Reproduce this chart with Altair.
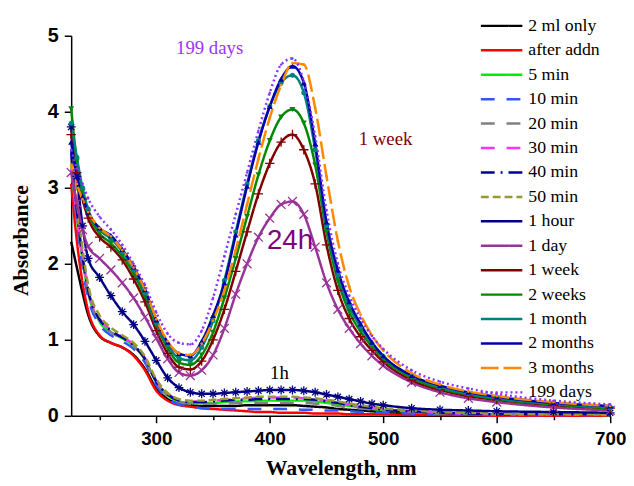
import altair as alt
import pandas as pd

wavelength = [225, 230, 235, 240, 250, 260, 270, 280, 290, 300, 310, 320, 330, 340, 350, 360,
              370, 380, 390, 400, 410, 420, 430, 440, 450, 460, 470, 480, 490, 500, 525, 550,
              575, 600, 650, 700]

series_names = ["2 ml only", "after addn", "5 min", "10 min", "20 min", "30 min", "40 min",
                "50 min", "1 hour", "1 day", "1 week", "2 weeks", "1 month", "2 months",
                "3 months", "199 days"]

ml2_only = [2.29, 1.95, 1.62, 1.33, 1.05, 0.96, 0.90, 0.80, 0.62, 0.36, 0.22, 0.16, 0.14, 0.13, 0.13, 0.13,
            0.13, 0.14, 0.14, 0.14, 0.14, 0.14, 0.13, 0.12, 0.11, 0.09, 0.08, 0.07, 0.06, 0.05, 0.03, 0.02,
            0.02, 0.01, 0.01, 0.01]
after_addn = [3.05, 2.30, 1.75, 1.38, 1.06, 0.96, 0.90, 0.79, 0.60, 0.33, 0.20, 0.14, 0.12, 0.10, 0.09, 0.08,
              0.07, 0.06, 0.05, 0.05, 0.04, 0.04, 0.04, 0.03, 0.03, 0.03, 0.02, 0.02, 0.02, 0.02, 0.01, 0.01,
              0.01, 0.0, 0.0, 0.0]
min5 = [3.30, 2.60, 2.05, 1.62, 1.24, 1.10, 1.02, 0.92, 0.74, 0.44, 0.27, 0.19, 0.17, 0.17, 0.17, 0.18,
        0.19, 0.19, 0.20, 0.20, 0.20, 0.20, 0.20, 0.19, 0.17, 0.15, 0.13, 0.11, 0.09, 0.08, 0.05, 0.04,
        0.03, 0.02, 0.02, 0.01]
min10 = [3.45, 2.55, 1.95, 1.55, 1.20, 1.06, 0.98, 0.88, 0.70, 0.40, 0.23, 0.15, 0.12, 0.10, 0.09, 0.09,
         0.09, 0.09, 0.09, 0.09, 0.09, 0.09, 0.08, 0.08, 0.07, 0.07, 0.06, 0.05, 0.05, 0.04, 0.03, 0.02,
         0.02, 0.01, 0.01, 0.01]
min20 = [3.40, 2.62, 2.05, 1.62, 1.25, 1.10, 1.02, 0.92, 0.74, 0.44, 0.26, 0.18, 0.16, 0.16, 0.16, 0.16,
         0.17, 0.17, 0.17, 0.17, 0.17, 0.17, 0.17, 0.16, 0.15, 0.13, 0.11, 0.10, 0.08, 0.07, 0.05, 0.03,
         0.03, 0.02, 0.02, 0.01]
min30 = [3.25, 2.65, 2.10, 1.66, 1.28, 1.13, 1.04, 0.94, 0.76, 0.46, 0.29, 0.21, 0.19, 0.19, 0.20, 0.21,
         0.22, 0.23, 0.24, 0.24, 0.24, 0.24, 0.23, 0.22, 0.20, 0.18, 0.15, 0.13, 0.11, 0.09, 0.06, 0.04,
         0.03, 0.03, 0.02, 0.02]
min40 = [3.50, 2.70, 2.10, 1.65, 1.27, 1.12, 1.03, 0.93, 0.75, 0.45, 0.28, 0.20, 0.18, 0.18, 0.19, 0.20,
         0.21, 0.21, 0.22, 0.22, 0.22, 0.22, 0.22, 0.21, 0.19, 0.17, 0.14, 0.12, 0.10, 0.08, 0.06, 0.04,
         0.03, 0.02, 0.02, 0.02]
min50 = [3.85, 2.85, 2.20, 1.72, 1.32, 1.16, 1.06, 0.96, 0.78, 0.48, 0.30, 0.22, 0.20, 0.20, 0.21, 0.22,
         0.23, 0.24, 0.25, 0.25, 0.25, 0.25, 0.24, 0.23, 0.21, 0.19, 0.16, 0.14, 0.12, 0.10, 0.07, 0.05,
         0.04, 0.03, 0.02, 0.02]
hour1 = [3.80, 3.15, 2.50, 2.07, 1.82, 1.58, 1.37, 1.20, 0.98, 0.73, 0.50, 0.37, 0.31, 0.29, 0.29, 0.30,
         0.31, 0.32, 0.33, 0.34, 0.34, 0.34, 0.33, 0.31, 0.28, 0.25, 0.22, 0.19, 0.16, 0.14, 0.10, 0.08,
         0.07, 0.06, 0.05, 0.04]
day1 = [3.20, 2.80, 2.45, 2.23, 2.07, 1.92, 1.75, 1.55, 1.30, 1.02, 0.75, 0.57, 0.53, 0.60, 0.80, 1.15,
        1.60, 2.00, 2.35, 2.60, 2.78, 2.82, 2.65, 2.22, 1.75, 1.40, 1.15, 0.95, 0.79, 0.66, 0.44, 0.31,
        0.23, 0.18, 0.11, 0.07]
week1 = [3.70, 3.20, 2.85, 2.60, 2.35, 2.22, 2.05, 1.80, 1.50, 1.12, 0.82, 0.64, 0.61, 0.72, 1.00, 1.40,
         1.90, 2.42, 2.92, 3.32, 3.60, 3.70, 3.50, 3.05, 2.25, 1.65, 1.28, 1.04, 0.86, 0.71, 0.47, 0.34,
         0.26, 0.21, 0.14, 0.10]
weeks2 = [4.04, 3.35, 2.95, 2.68, 2.40, 2.27, 2.10, 1.87, 1.57, 1.19, 0.89, 0.70, 0.67, 0.80, 1.10, 1.55,
          2.07, 2.62, 3.17, 3.62, 3.93, 4.03, 3.85, 3.30, 2.42, 1.78, 1.37, 1.11, 0.91, 0.75, 0.50, 0.36,
          0.28, 0.22, 0.15, 0.10]
month1 = [3.85, 3.40, 3.00, 2.72, 2.45, 2.33, 2.16, 1.92, 1.62, 1.22, 0.93, 0.76, 0.73, 0.90, 1.25, 1.78,
          2.42, 3.05, 3.62, 4.07, 4.38, 4.48, 4.25, 3.50, 2.50, 1.85, 1.44, 1.17, 0.95, 0.78, 0.52, 0.38,
          0.29, 0.23, 0.16, 0.11]
months2 = [3.60, 3.15, 2.88, 2.68, 2.47, 2.37, 2.19, 1.96, 1.66, 1.26, 0.97, 0.82, 0.79, 0.98, 1.32, 1.75,
           2.38, 3.02, 3.60, 4.07, 4.43, 4.60, 4.38, 3.58, 2.55, 1.92, 1.50, 1.21, 0.97, 0.79, 0.53, 0.40,
           0.31, 0.25, 0.17, 0.13]
months3 = [3.30, 3.05, 2.85, 2.68, 2.47, 2.36, 2.18, 1.95, 1.66, 1.27, 0.98, 0.82, 0.80, 0.95, 1.25, 1.65,
           2.18, 2.78, 3.38, 3.92, 4.35, 4.64, 4.62, 4.05, 3.15, 2.30, 1.70, 1.33, 1.06, 0.86, 0.56, 0.41,
           0.32, 0.26, 0.18, 0.13]
days199 = [3.50, 3.25, 3.05, 2.86, 2.62, 2.45, 2.25, 2.00, 1.72, 1.36, 1.08, 0.96, 0.94, 1.12, 1.55, 2.10,
           2.65, 3.20, 3.75, 4.25, 4.62, 4.70, 4.40, 3.68, 2.70, 2.00, 1.58, 1.28, 1.05, 0.88, 0.60, 0.45,
           0.36, 0.29, 0.20, 0.15]

all_values = [ml2_only, after_addn, min5, min10, min20, min30, min40, min50, hour1, day1, week1,
              weeks2, month1, months2, months3, days199]

colors = ["#000000", "#ff0000", "#00ee00", "#3355ff", "#808080", "#ff33ff", "#000099", "#999933",
          "#000080", "#993399", "#800000", "#008800", "#008080", "#0000aa", "#ff8800", "#8833ff"]
dashes = [[1, 0], [1, 0], [1, 0], [14, 12], [14, 12], [14, 12], [14, 6, 2, 6], [8, 4],
          [1, 0], [1, 0], [1, 0], [1, 0], [1, 0], [1, 0], [18, 5], [2, 3]]
widths = [2.5, 2.5, 1.2, 1.3, 1.3, 1.3, 1.3, 1.3, 3.0, 3.0, 2.0, 2.0, 2.0, 2.0, 1.5, 1.4]

ann_text = ["199 days", "1 week", "1h"]
ann_wl = [347, 502, 408.5]
ann_abs = [4.84, 3.64, 0.56]
ann_color = ["#9933ff", "#800000", "#000000"]

big_text = ["24h"]
big_wl = [417.8]
big_abs = [2.30]

rows = []
for i, name in enumerate(series_names):
    for w, v in zip(wavelength, all_values[i]):
        rows.append({"series": name, "wl": w, "abs": v, "idx": i})
df = pd.DataFrame(rows)

xenc = alt.X("wl:Q", scale=alt.Scale(domain=[225, 700], nice=False, zero=False),
             axis=alt.Axis(values=[250, 300, 350, 400, 450, 500, 550, 600, 650, 700],
                           labelExpr="datum.value % 100 === 0 ? format(datum.value, 'd') : ''",
                           tickSize={"condition": {"test": "datum.value % 100 !== 0", "value": 4}, "value": 7},
                           grid=False, labelFlush=False, labelOverlap=False,
                           labelFont="Liberation Sans", labelFontWeight="bold", labelFontSize=19,
                           labelPadding=7, labelColor="black",
                           title="Wavelength, nm", titleFont="Liberation Serif", titleFontSize=22,
                           titleFontWeight="bold", titleColor="black", titleY=59,
                           titleBaseline="alphabetic",
                           domainColor="black", domainWidth=1.5, tickColor="black", tickWidth=1.5))
yenc = alt.Y("abs:Q", scale=alt.Scale(domain=[0, 5], nice=False),
             axis=alt.Axis(values=[0, 0.5, 1, 1.5, 2, 2.5, 3, 3.5, 4, 4.5, 5],
                           labelExpr="datum.value % 1 === 0 ? format(datum.value, 'd') : ''",
                           tickSize={"condition": {"test": "datum.value % 1 !== 0", "value": 4}, "value": 7},
                           grid=False, labelFlush=False, labelOverlap=False,
                           labelFont="Liberation Sans", labelFontWeight="bold", labelFontSize=20,
                           labelPadding=6, labelColor="black",
                           title="Absorbance", titleFont="Liberation Serif", titleFontSize=22,
                           titleFontWeight="bold", titleColor="black", titleX=-44, titleY=207,
                           titleBaseline="alphabetic",
                           domainColor="black", domainWidth=1.5, tickColor="black", tickWidth=1.5))

legend = alt.Legend(
    title=None, orient="none", legendX=427, legendY=-19, symbolType="M-3,0H3", symbolSize=196,
    labelFont="Liberation Serif", labelFontSize=18, labelColor="black", rowPadding=6.75,
    labelOffset=18, padding=0, labelLimit=200
)

lines = alt.Chart(df).mark_line(interpolate="monotone").encode(
    x=xenc, y=yenc,
    color=alt.Color("series:N", scale=alt.Scale(domain=series_names, range=colors), legend=legend),
    strokeDash=alt.StrokeDash("series:N", scale=alt.Scale(domain=series_names, range=dashes), legend=legend),
    strokeWidth=alt.StrokeWidth("series:N", scale=alt.Scale(domain=series_names, range=widths), legend=legend),
    order=alt.Order("idx:Q"),
)

asterisk = "M-1,0H1M0,-1V1M-0.7,-0.7L0.7,0.7M-0.7,0.7L0.7,-0.7"
xshape = "M-1,-1L1,1M-1,1L1,-1"
plus = "M-1,0H1M0,-1V1"

marker_specs = [
    ("1 hour", asterisk, False, "#000080", 80),
    ("1 day", xshape, False, "#993399", 80),
    ("1 week", plus, False, "#800000", 90),
    ("2 weeks", "triangle-down", True, "#008800", 36),
    ("1 month", "circle", True, "#008080", 26),
    ("2 months", "triangle-up", True, "#0000aa", 36),
    ("3 months", "circle", True, "#ff8800", 8),
    ("199 days", "circle", True, "#8833ff", 6),
]

layers = [lines]
for name, shp, filled, col, sz in marker_specs:
    layers.append(
        alt.Chart(df).transform_filter(alt.datum.series == name).mark_point(
            shape=shp, filled=filled, color=col, size=sz, strokeWidth=1.3, opacity=1
        ).encode(x="wl:Q", y="abs:Q")
    )

ann_df = pd.DataFrame({"text": ann_text, "wl": ann_wl, "abs": ann_abs, "color": ann_color})
layers.append(
    alt.Chart(ann_df).mark_text(font="Liberation Serif", fontSize=19, align="center", baseline="middle").encode(
        x="wl:Q", y="abs:Q", text="text:N", color=alt.Color("color:N", scale=None)
    )
)
big_df = pd.DataFrame({"text": big_text, "wl": big_wl, "abs": big_abs})
layers.append(
    alt.Chart(big_df).mark_text(font="Liberation Sans", fontSize=28, align="center", baseline="middle",
                                color="#800080").encode(x="wl:Q", y="abs:Q", text="text:N")
)

chart = alt.layer(*layers).properties(
    width=546, height=385,
    padding={"left": 64, "top": 25, "right": 16, "bottom": 68},
    autosize=alt.AutoSizeParams(type="none"),
).configure_view(stroke=None)

chart.save("out.html", embed_options={"renderer": "svg", "actions": False})
